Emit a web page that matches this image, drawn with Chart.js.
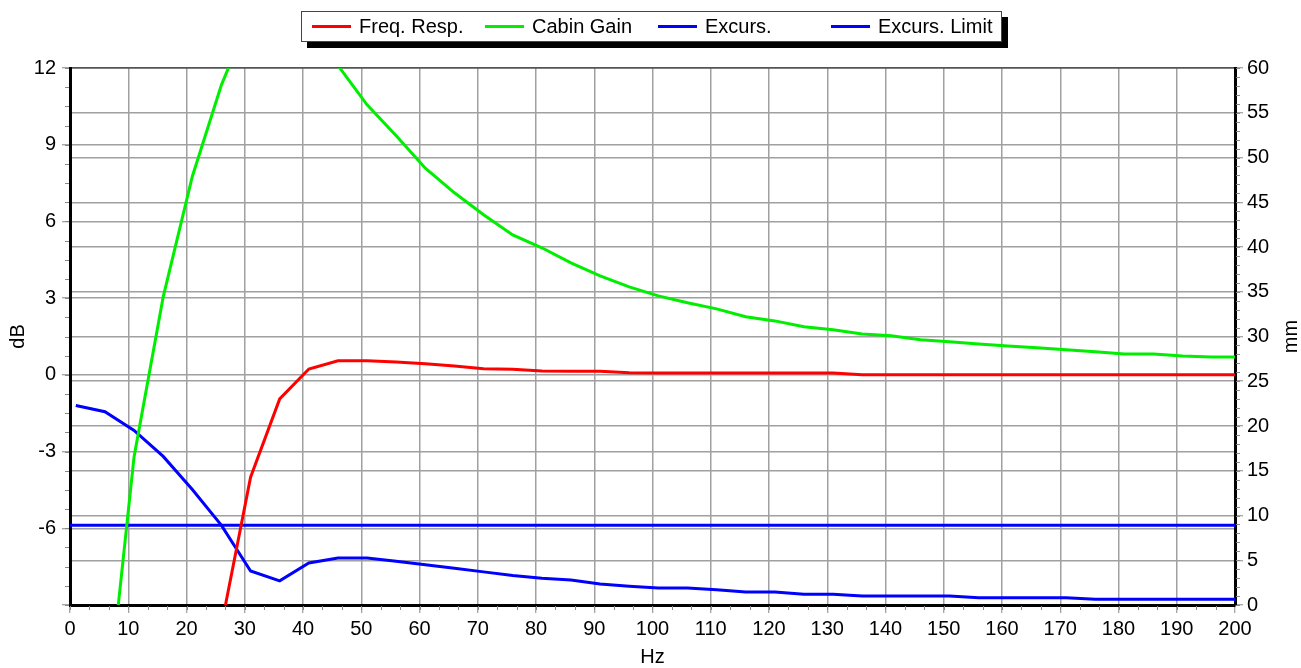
<!DOCTYPE html>
<html>
<head>
<meta charset="utf-8">
<script src="https://cdn.jsdelivr.net/npm/chart.js@4/dist/chart.umd.min.js"></script>
<style>
  body { margin: 0; background: #fff; font-family: "Liberation Sans", Arial, sans-serif; }
  #wrap { position: relative; width: 1301px; height: 668px; }
  #legend { position: absolute; left: 301px; top: 11px; width: 699px; height: 29px;
            border: 1px solid #444; background: #fff; box-shadow: 6px 6px 0 #000; }
  .item { position: absolute; top: 0; height: 29px; line-height: 29px; font-size: 20px; color: #000; white-space: nowrap; }
  .swatch { position: absolute; left: 0; top: 13px; width: 39px; height: 3px; }
  .lbl { position: absolute; left: 47px; top: 0; }
</style>
</head>
<body>
<div id="wrap">
  <canvas id="chart" width="1301" height="668"></canvas>
  <div id="legend"></div>
</div>
<script>
// Частоты (Hz)
const hz = [1, 6, 11, 16, 21, 26, 31, 36, 41, 46,
  51, 56, 61, 66, 71, 76, 81, 86, 91, 96,
  101, 106, 111, 116, 121, 126, 131, 136, 141, 146,
  151, 156, 161, 166, 171, 176, 181, 186, 191, 196, 200];

// АЧХ, dB
const freqResp = [null, null, null, null, null, -9.8, -4.0, -0.94, 0.23, 0.55,
  0.55, 0.5, 0.43, 0.35, 0.24, 0.22, 0.15, 0.14, 0.14, 0.08,
  0.07, 0.07, 0.07, 0.07, 0.07, 0.07, 0.07, 0, 0, 0,
  0, 0, 0, 0, 0, 0, 0, 0, 0, 0, 0];

// Усиление салона, dB
const cabinGain = [null, -13.9, -3.2, 3.05, 7.76, 11.34, 14.1, 14.8, 14.0, 12.1,
  10.56, 9.35, 8.08, 7.12, 6.26, 5.47, 4.97, 4.38, 3.87, 3.44,
  3.09, 2.82, 2.58, 2.27, 2.11, 1.88, 1.76, 1.6, 1.53, 1.37,
  1.29, 1.21, 1.13, 1.06, 0.98, 0.9, 0.82, 0.82, 0.74, 0.7, 0.7];

// Ход диффузора, mm
const excursion = [22.3, 21.6, 19.5, 16.6, 12.9, 8.9, 3.8, 2.7, 4.7, 5.25,
  5.25, 4.9, 4.5, 4.1, 3.7, 3.3, 3.0, 2.8, 2.35, 2.1,
  1.9, 1.9, 1.7, 1.45, 1.45, 1.2, 1.2, 1.0, 1.0, 1.0,
  1.0, 0.8, 0.8, 0.8, 0.8, 0.65, 0.65, 0.65, 0.65, 0.65, 0.65];

// Предел хода
const limitHz = [0, 200];
const limitMm = [8.9, 8.9];

const labels = ['Freq. Resp.', 'Cabin Gain', 'Excurs.', 'Excurs. Limit'];
const colors = ['#ff0000', '#00ee00', '#0000ff', '#0000ff'];

const dbTicks = { min: -9, max: 12, step: 3 };
const mmTicks = { min: 0, max: 60, step: 5 };
const hzTicks = { min: 0, max: 200, step: 10 };

function pts(xs, ys) {
  return xs.map((f, i) => ({ x: f, y: ys[i] }));
}

const FONT = { family: '"Liberation Sans", Arial, sans-serif', size: 20 };
const TICK_GRAY = '#888';

function gridColor(ctx) {
  const s = ctx.scale;
  if (s && ctx.tick && ctx.tick.value === s.max) return '#555';
  return '#a0a0a0';
}

// Мелкие засечки на осях + подпись правой оси
const extras = {
  id: 'extras',
  afterDraw(chart) {
    const ctx = chart.ctx;
    const a = chart.chartArea;
    const { x, y, y1 } = chart.scales;
    ctx.save();
    ctx.strokeStyle = TICK_GRAY;
    ctx.lineWidth = 1;
    ctx.beginPath();
    for (let v = dbTicks.min; v <= dbTicks.max; v += dbTicks.step / 4) {
      const p = Math.round(y.getPixelForValue(v)) + 0.5;
      ctx.moveTo(a.left - 5, p); ctx.lineTo(a.left - 1, p);
    }
    for (let v = mmTicks.min; v <= mmTicks.max; v += 1) {
      const p = Math.round(y1.getPixelForValue(v)) + 0.5;
      ctx.moveTo(a.right + 1, p); ctx.lineTo(a.right + 5, p);
    }
    for (let v = hzTicks.min; v <= hzTicks.max; v += hzTicks.step / 3) {
      const p = Math.round(x.getPixelForValue(v)) + 0.5;
      ctx.moveTo(p, a.bottom + 1); ctx.lineTo(p, a.bottom + 5);
    }
    ctx.stroke();

    // "mm" повернута как "dB"
    ctx.fillStyle = '#000';
    ctx.font = '20px "Liberation Sans", Arial, sans-serif';
    ctx.textAlign = 'center';
    ctx.textBaseline = 'middle';
    ctx.translate(y1.right - 10, (a.top + a.bottom) / 2);
    ctx.rotate(-Math.PI / 2);
    ctx.fillText('mm', 0, 0);
    ctx.restore();
  }
};

const chart = new Chart(document.getElementById('chart').getContext('2d'), {
  type: 'line',
  data: {
    datasets: [{
      label: labels[0], data: pts(hz, freqResp), yAxisID: 'y',
      borderColor: colors[0], borderWidth: 3, pointRadius: 0, tension: 0
    }, {
      label: labels[1], data: pts(hz, cabinGain), yAxisID: 'y',
      borderColor: colors[1], borderWidth: 3, pointRadius: 0, tension: 0
    }, {
      label: labels[2], data: pts(hz, excursion), yAxisID: 'y1',
      borderColor: colors[2], borderWidth: 3, pointRadius: 0, tension: 0
    }, {
      label: labels[3], data: pts(limitHz, limitMm), yAxisID: 'y1',
      borderColor: colors[3], borderWidth: 3, pointRadius: 0, tension: 0
    }]
  },
  options: {
    responsive: false,
    animation: false,
    layout: { padding: { top: 68, left: 0, right: 0, bottom: 0 } },
    plugins: { legend: { display: false }, tooltip: { enabled: false } },
    scales: {
      x: {
        type: 'linear', min: hzTicks.min, max: hzTicks.max,
        afterFit(s) { s.height = 63; },
        ticks: { stepSize: hzTicks.step, color: '#000', font: FONT, padding: 4, maxRotation: 0 },
        grid: { color: '#a0a0a0', lineWidth: 1.5, tickLength: 8, tickColor: TICK_GRAY, tickWidth: 1 },
        border: { color: '#000', width: 3 },
        title: { display: true, text: 'Hz', color: '#000', font: { ...FONT, lineHeight: 1 }, padding: { top: 0, bottom: 1 } }
      },
      y: {
        position: 'left', min: dbTicks.min, max: dbTicks.max,
        afterFit(s) { s.width = 70; },
        ticks: {
          stepSize: dbTicks.step, color: '#000', font: FONT, padding: 6,
          callback: v => (v === dbTicks.min ? '' : String(v))
        },
        grid: { color: gridColor, lineWidth: 1.5, tickLength: 8, tickColor: TICK_GRAY, tickWidth: 1 },
        border: { color: '#000', width: 3 },
        title: { display: true, text: 'dB', color: '#000', font: { ...FONT, lineHeight: 1 }, padding: { top: 8, bottom: 0 } }
      },
      y1: {
        position: 'right', min: mmTicks.min, max: mmTicks.max,
        afterFit(s) { s.width = 66; },
        ticks: { stepSize: mmTicks.step, color: '#000', font: FONT, padding: 4 },
        grid: { color: gridColor, lineWidth: 1.5, tickLength: 8, tickColor: TICK_GRAY, tickWidth: 1 },
        border: { color: '#000', width: 3 },
        title: { display: false }
      }
    }
  },
  plugins: [extras]
});

// Легенда
const legend = document.getElementById('legend');
chart.data.datasets.forEach((ds, i) => {
  const item = document.createElement('div');
  item.className = 'item';
  item.style.left = (10 + i * 173) + 'px';
  const sw = document.createElement('span');
  sw.className = 'swatch';
  sw.style.background = ds.borderColor;
  const lbl = document.createElement('span');
  lbl.className = 'lbl';
  lbl.textContent = ds.label;
  item.appendChild(sw);
  item.appendChild(lbl);
  legend.appendChild(item);
});
</script>
</body>
</html>
